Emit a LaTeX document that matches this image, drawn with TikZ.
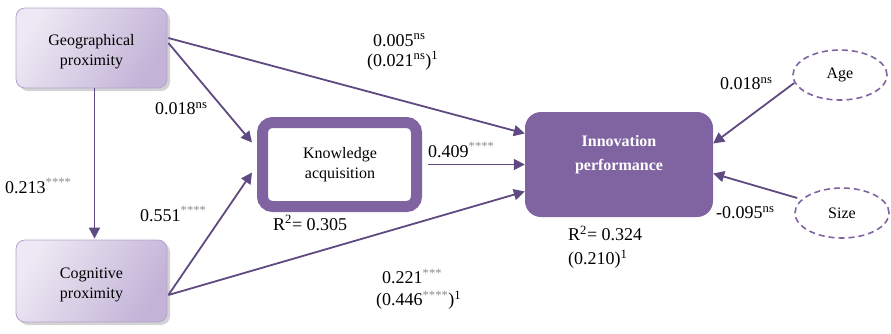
\documentclass[tikz,border=0pt]{standalone}
\usepackage{fontspec}
\setmainfont{Liberation Serif}
\usetikzlibrary{shapes.geometric,arrows.meta,shadows,calc}
\definecolor{pur}{HTML}{8064A2}
\definecolor{arr}{HTML}{5E4A80}
\definecolor{lavL}{HTML}{EDE8F3}
\definecolor{lavD}{HTML}{C3B3D7}
\definecolor{lavE}{HTML}{B3A3C9}
\definecolor{star}{HTML}{8C8C8C}
\newcommand{\st}[1]{\textsuperscript{\textcolor{star}{#1}}}
\begin{document}
\begin{tikzpicture}[x=1pt,y=-1pt,
  lav/.style={rectangle, rounded corners=9pt, draw=lavE, line width=0.8pt,
    left color=lavL, right color=lavD, shading angle=60,
    drop shadow={shadow xshift=3pt, shadow yshift=-3pt, opacity=0.35, fill=gray},
    minimum width=151pt, minimum height=80pt},
  knowbox/.style={rectangle, rounded corners=10pt, draw=pur, line width=11pt, fill=white,
    minimum width=154pt, minimum height=84pt},
  innobox/.style={rectangle, rounded corners=16pt, fill=pur,
    minimum width=188pt, minimum height=105pt},
  boxtext/.style={align=center, inner sep=0pt, font=\fontsize{16}{20}\selectfont},
  ctrl/.style={ellipse, draw=pur, dashed, dash pattern=on 6pt off 4pt, line width=1.6pt,
    minimum width=94pt, minimum height=50pt, inner sep=0pt, font=\fontsize{16}{19}\selectfont},
  path/.style={draw=arr, line width=1.8pt, -{Triangle[length=11pt,width=11pt]}},
  lbl/.style={anchor=west, inner sep=0pt, align=left, font=\fontsize{18}{22}\selectfont}
]
\useasboundingbox (0,0) rectangle (891,333);

\node[lav] (geo) at (91.5,48) {};
\node[boxtext] (geot) at (91.5,52) {Geographical\\proximity};
\node[lav, minimum height=82pt] (cog) at (91.5,281) {};
\node[boxtext] (cogt) at (91.5,285) {Cognitive\\proximity};
\node[knowbox] (know) at (339.5,164.5) {};
\node[boxtext] (knowt) at (340,165) {Knowledge\\acquisition};
\node[innobox] (inno) at (619,164.5) {};
\node[boxtext, text=white, font=\bfseries\fontsize{16}{24}\selectfont] (innot) at (619,155) {Innovation\\performance};
\node[ctrl] (age) at (840,75) {Age};
\node[ctrl] (size) at (842,213) {Size};

\draw[path] ($(geo.east)+(1,-10)$) -- ($(inno.west)+(0,-31)$);
\draw[path] ($(geo.east)+(1,-5)$) -- ($(know.west)+(-5,-22)$);
\draw[path] ($(geo.south)+(3,0)$) -- ($(cog.north)+(3,-1)$);
\draw[path] ($(cog.east)+(1,14)$) -- ($(know.west)+(-5,8)$);
\draw[path] ($(cog.east)+(1,14)$) -- ($(inno.west)+(0,27)$);
\draw[path] ($(know.east)+(5.5,0)$) -- (inno.west);
\draw[path] ($(age.west)+(2,8)$) -- ($(inno.east)+(0,-21)$);
\draw[path] ($(size.west)+(3,-15)$) -- ($(inno.east)+(0,9)$);

\node[lbl] (l1) at (373,52) {0.005\textsuperscript{ns}\\[-2pt]\hspace*{-6pt}(0.021\textsuperscript{ns})\textsuperscript{1}};
\node[lbl] (l2) at (155,109) {0.018\textsuperscript{ns}};
\node[lbl] (l3) at (5,186) {0.213\st{****}};
\node[lbl] (l4) at (140,214) {0.551\st{****}};
\node[lbl] (l5) at (428,150) {0.409\st{****}};
\node[lbl] (l6) at (273,223) {R\textsuperscript{2}= 0.305};
\node[lbl] (l7) at (568,247) {R\textsuperscript{2}= 0.324\\[2pt](0.210)\textsuperscript{1}};
\node[lbl] (l8) at (376,289) {\hspace*{6pt}0.221\st{***}\\(0.446\st{****})\textsuperscript{1}};
\node[lbl] (l9) at (720,84) {0.018\textsuperscript{ns}};
\node[lbl] (l10) at (716,213) {-0.095\textsuperscript{ns}};
\end{tikzpicture}
\end{document}
